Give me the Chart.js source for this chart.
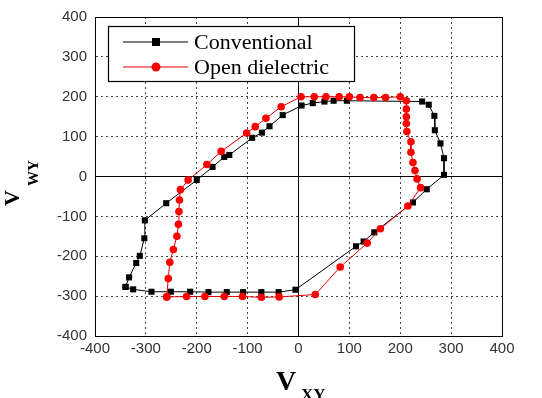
<!DOCTYPE html>
<html>
<head>
<meta charset="utf-8">
<script src="https://cdn.jsdelivr.net/npm/chart.js@4/dist/chart.umd.min.js"></script>
<style>
body { margin: 0; background: #fff; }
#wrap { width: 542px; height: 398px; }
</style>
</head>
<body>
<div id="wrap"><canvas id="loop-chart" width="542" height="398"></canvas></div>
<script>
var seriesNames = ["Conventional", "Open dielectric"];
var axisTicks = [-400, -300, -200, -100, 0, 100, 200, 300, 400];

// Conventional loop, points in path order
var convX = [-340,-333,-319,-312,-303,-302,-260,-200,-169,-146,-136,-91,-72,-57,-31,6,28,51,69,95,243,256,267,268,279,286,286,252,225,149,128,113,-6,-39,-73,-109,-141,-177,-213,-251,-289,-325,-340];
var convY = [-277,-253,-217,-199,-155,-110,-67,-9,24,49,54,97,110,126,154,178,184,188,190,190,188,180,152,116,83,46,4,-32,-65,-140,-163,-175,-284,-290,-290,-290,-290,-290,-289,-289,-289,-283,-277];

// Open dielectric loop
var openX = [-259,-256,-253,-246,-239,-236,-235,-234,-232,-217,-180,-152,-102,-85,-64,-34,5,31,54,80,100,121,148,171,200,212,212,212,212,213,221,221,225,229,233,240,215,161,135,82,33,-38,-73,-110,-146,-184,-220,-259];
var openY = [-302,-256,-215,-183,-150,-120,-88,-59,-33,-9,30,63,109,125,146,175,200,200,200,200,200,198,198,198,200,190,169,150,133,113,87,61,35,15,-6,-28,-74,-131,-167,-227,-296,-302,-303,-301,-301,-301,-301,-302];

function toPoints(X, Y) {
	var pts = [];
	for (var i = 0; i < X.length; i++) {
		pts.push({x: X[i], y: Y[i]});
	}
	return pts;
}

function gridColor(ctx) {
	var v = ctx.tick ? ctx.tick.value : null;
	if (v === 0 || v === 400 || v === -400) return "#000";
	return "#444";
}
function gridDash(ctx) {
	var v = ctx.tick ? ctx.tick.value : null;
	if (v === null || v === 0 || v === 400 || v === -400) return [];
	return [2, 3];
}

// legend box drawn inside the plot, like the original
var boxLegend = {
	id: "boxLegend",
	afterDraw: function(chart) {
		var c = chart.ctx;
		c.save();
		c.fillStyle = "#fff";
		c.fillRect(108, 26, 246, 55);
		c.strokeStyle = "#000";
		c.lineWidth = 1.2;
		c.strokeRect(108.5, 26.5, 246, 55);
		var rows = [42, 67];
		chart.data.datasets.forEach(function(ds, i) {
			var y = rows[i];
			c.strokeStyle = ds.borderColor;
			c.lineWidth = 1;
			c.beginPath();
			c.moveTo(123, y);
			c.lineTo(188, y);
			c.stroke();
			c.fillStyle = ds.pointBackgroundColor;
			if (ds.pointStyle === "rect") {
				c.fillRect(152, y - 4, 8, 8);
			} else {
				c.beginPath();
				c.arc(156, y, 4.5, 0, Math.PI * 2);
				c.fill();
			}
			c.fillStyle = "#000";
			c.font = "22px 'Liberation Serif'";
			c.textBaseline = "middle";
			c.fillText(ds.label, 194, y + 1);
		});
		c.restore();
	}
};

// axis titles with subscripts
var axisNames = {
	id: "axisNames",
	afterDraw: function(chart) {
		var c = chart.ctx;
		c.save();
		c.fillStyle = "#000";
		c.textBaseline = "alphabetic";
		c.font = "bold 28px 'Liberation Serif'";
		c.fillText("V", 276, 390);
		c.font = "bold 17px 'Liberation Serif'";
		c.fillText("XY", 301, 400);

		c.translate(19, 206);
		c.rotate(-Math.PI / 2);
		c.font = "bold 22px 'Liberation Serif'";
		c.fillText("V", 0, 0);
		c.font = "bold 15px 'Liberation Serif'";
		c.fillText("WY", 20, 19);
		c.restore();
	}
};

function loopChart(id) {
	new Chart(document.getElementById(id), {
		type: "scatter",
		data: {
			datasets: [
				{
					label: seriesNames[0],
					data: toPoints(convX, convY),
					showLine: true,
					borderColor: "#000",
					borderWidth: 1,
					pointStyle: "rect",
					pointRadius: 4.3,
					pointBackgroundColor: "#000",
					pointBorderWidth: 0,
					order: 1
				},
				{
					label: seriesNames[1],
					data: toPoints(openX, openY),
					showLine: true,
					borderColor: "#e00000",
					borderWidth: 1,
					pointStyle: "circle",
					pointRadius: 3.8,
					pointBackgroundColor: "#ff0000",
					pointBorderWidth: 0,
					order: 0
				}
			]
		},
		options: {
			responsive: false,
			animation: false,
			layout: { padding: { top: 16, right: 40, left: 0, bottom: 0 } },
			plugins: {
				legend: { display: false },
				tooltip: { enabled: false }
			},
			scales: {
				x: {
					type: "linear",
					min: axisTicks[0],
					max: axisTicks[axisTicks.length - 1],
					afterFit: function(s) { s.height = 62; },
					ticks: { stepSize: 100, color: "#333", padding: 4, font: { family: "'Liberation Sans'", size: 15 } },
					grid: { color: gridColor, lineWidth: 1, drawTicks: false },
					border: { display: true, color: "#000", dash: gridDash }
				},
				y: {
					type: "linear",
					min: axisTicks[0],
					max: axisTicks[axisTicks.length - 1],
					afterFit: function(s) { s.width = 95; },
					ticks: { stepSize: 100, color: "#333", padding: 8, font: { family: "'Liberation Sans'", size: 15 } },
					grid: { color: gridColor, lineWidth: 1, drawTicks: false },
					border: { display: true, color: "#000", dash: gridDash }
				}
			}
		},
		plugins: [boxLegend, axisNames]
	});
}

loopChart("loop-chart");
</script>
</body>
</html>
